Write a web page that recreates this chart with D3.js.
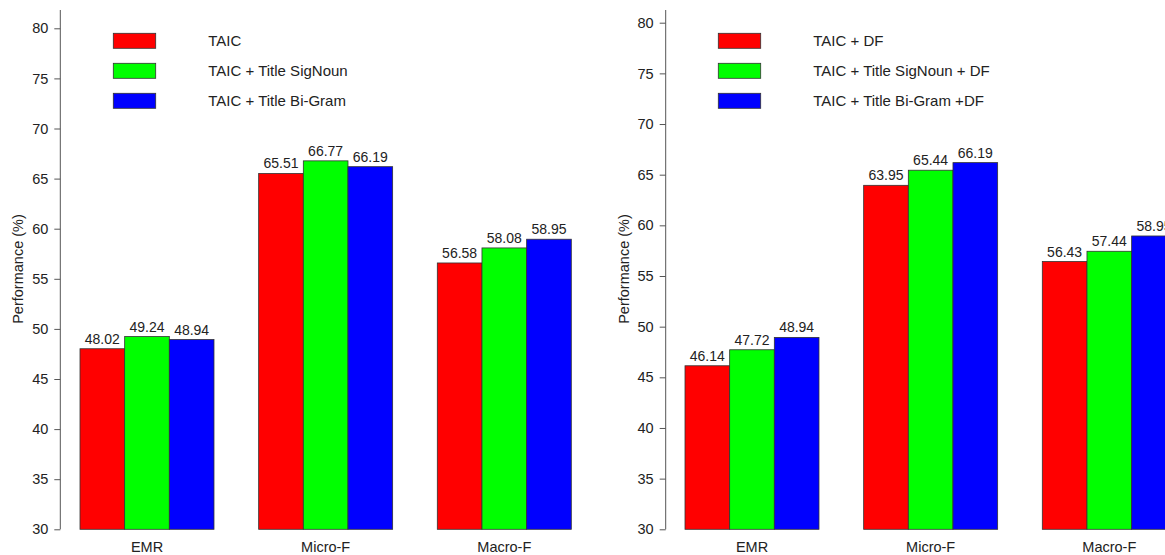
<!DOCTYPE html>
<html>
<head>
<meta charset="utf-8">
<script src="https://cdn.jsdelivr.net/npm/d3@7"></script>
<style>
  html, body { margin: 0; padding: 0; background: #fff; }
  svg text { font-family: "Liberation Sans", Arial, sans-serif; fill: #222; }
</style>
</head>
<body>
<svg id="chart" width="1165" height="555"></svg>
<script>
// Metrics on the category axis
const categories = ["EMR", "Micro-F", "Macro-F"];

// Left panel: feature sets without DF
const leftSeries = ["TAIC", "TAIC + Title SigNoun", "TAIC + Title Bi-Gram"];
const leftTaic      = [48.02, 65.51, 56.58];
const leftSigNoun   = [49.24, 66.77, 58.08];
const leftBiGram    = [48.94, 66.19, 58.95];

// Right panel: feature sets with DF
const rightSeries = ["TAIC + DF", "TAIC + Title SigNoun + DF", "TAIC + Title Bi-Gram +DF"];
const rightTaic     = [46.14, 63.95, 56.43];
const rightSigNoun  = [47.72, 65.44, 57.44];
const rightBiGram   = [48.94, 66.19, 58.95];

const yTicks = [30, 35, 40, 45, 50, 55, 60, 65, 70, 75, 80];
const yLabel = "Performance (%)";
const colors = ["#ff0000", "#00ff00", "#0000ff"];

const svg = d3.select("#chart");

function drawPanel(opts) {
  const g = svg.append("g");
  const values = opts.values;

  const y = d3.scaleLinear().domain([30, 80]).range([529.3, opts.yTop]);

  const x0 = d3.scaleBand()
    .domain(categories)
    .range([opts.firstBar, opts.firstBar + 491.3])
    .paddingInner(0.25)
    .paddingOuter(0);

  const x1 = d3.scaleBand()
    .domain(d3.range(opts.series.length))
    .range([0, x0.bandwidth()])
    .padding(0);

  // y axis
  const axis = g.append("g")
    .attr("transform", `translate(${opts.axisX},0)`)
    .call(d3.axisLeft(y).tickValues(yTicks).tickSize(6).tickPadding(6).tickFormat(d3.format("d")));
  axis.select(".domain").remove();
  axis.selectAll(".tick line").attr("stroke", "#555");
  axis.selectAll(".tick text").style("font-size", "14.5px").attr("fill", "#222");
  g.append("line")
    .attr("x1", opts.axisX).attr("x2", opts.axisX)
    .attr("y1", 10).attr("y2", y(30))
    .attr("stroke", "#555");

  // y axis title
  g.append("text")
    .attr("transform", `translate(${opts.axisX - 37},269) rotate(-90)`)
    .attr("text-anchor", "middle")
    .style("font-size", "14.5px")
    .text(yLabel);

  // bars
  const groups = g.selectAll(".grp")
    .data(categories)
    .join("g")
    .attr("transform", d => `translate(${x0(d)},0)`);

  groups.each(function(cat, ci) {
    const sel = d3.select(this);
    values.forEach((arr, si) => {
      const v = arr[ci];
      sel.append("rect")
        .attr("x", x1(si))
        .attr("y", y(v))
        .attr("width", x1.bandwidth())
        .attr("height", y(30) - y(v))
        .attr("fill", colors[si])
        .attr("stroke", "#333")
        .attr("stroke-width", 0.8);
      sel.append("text")
        .attr("x", x1(si) + x1.bandwidth() / 2)
        .attr("y", y(v) - 5)
        .attr("text-anchor", "middle")
        .style("font-size", "14px")
        .text(v.toFixed(2));
    });
  });

  // category labels
  g.selectAll(".cat")
    .data(categories)
    .join("text")
    .attr("x", d => x0(d) + x0.bandwidth() / 2)
    .attr("y", 552)
    .attr("text-anchor", "middle")
    .style("font-size", "14.5px")
    .text(d => d);

  // legend
  opts.series.forEach((s, i) => {
    const ly = 33.3 + i * 30;
    g.append("rect")
      .attr("x", opts.legendX).attr("y", ly)
      .attr("width", 42.4).attr("height", 15)
      .attr("fill", colors[i])
      .attr("stroke", "#333")
      .attr("stroke-width", 0.8);
    g.append("text")
      .attr("x", opts.legendTextX)
      .attr("y", ly + 7.5)
      .attr("dy", "0.35em")
      .style("font-size", "15px")
      .text(s);
  });
}

drawPanel({
  series: leftSeries,
  values: [leftTaic, leftSigNoun, leftBiGram],
  axisX: 60.3,
  firstBar: 80,
  yTop: 28.3,
  legendX: 113.3,
  legendTextX: 208.3
});

drawPanel({
  series: rightSeries,
  values: [rightTaic, rightSigNoun, rightBiGram],
  axisX: 665.7,
  firstBar: 685,
  yTop: 22.7,
  legendX: 718.3,
  legendTextX: 813.3
});
</script>
</body>
</html>
